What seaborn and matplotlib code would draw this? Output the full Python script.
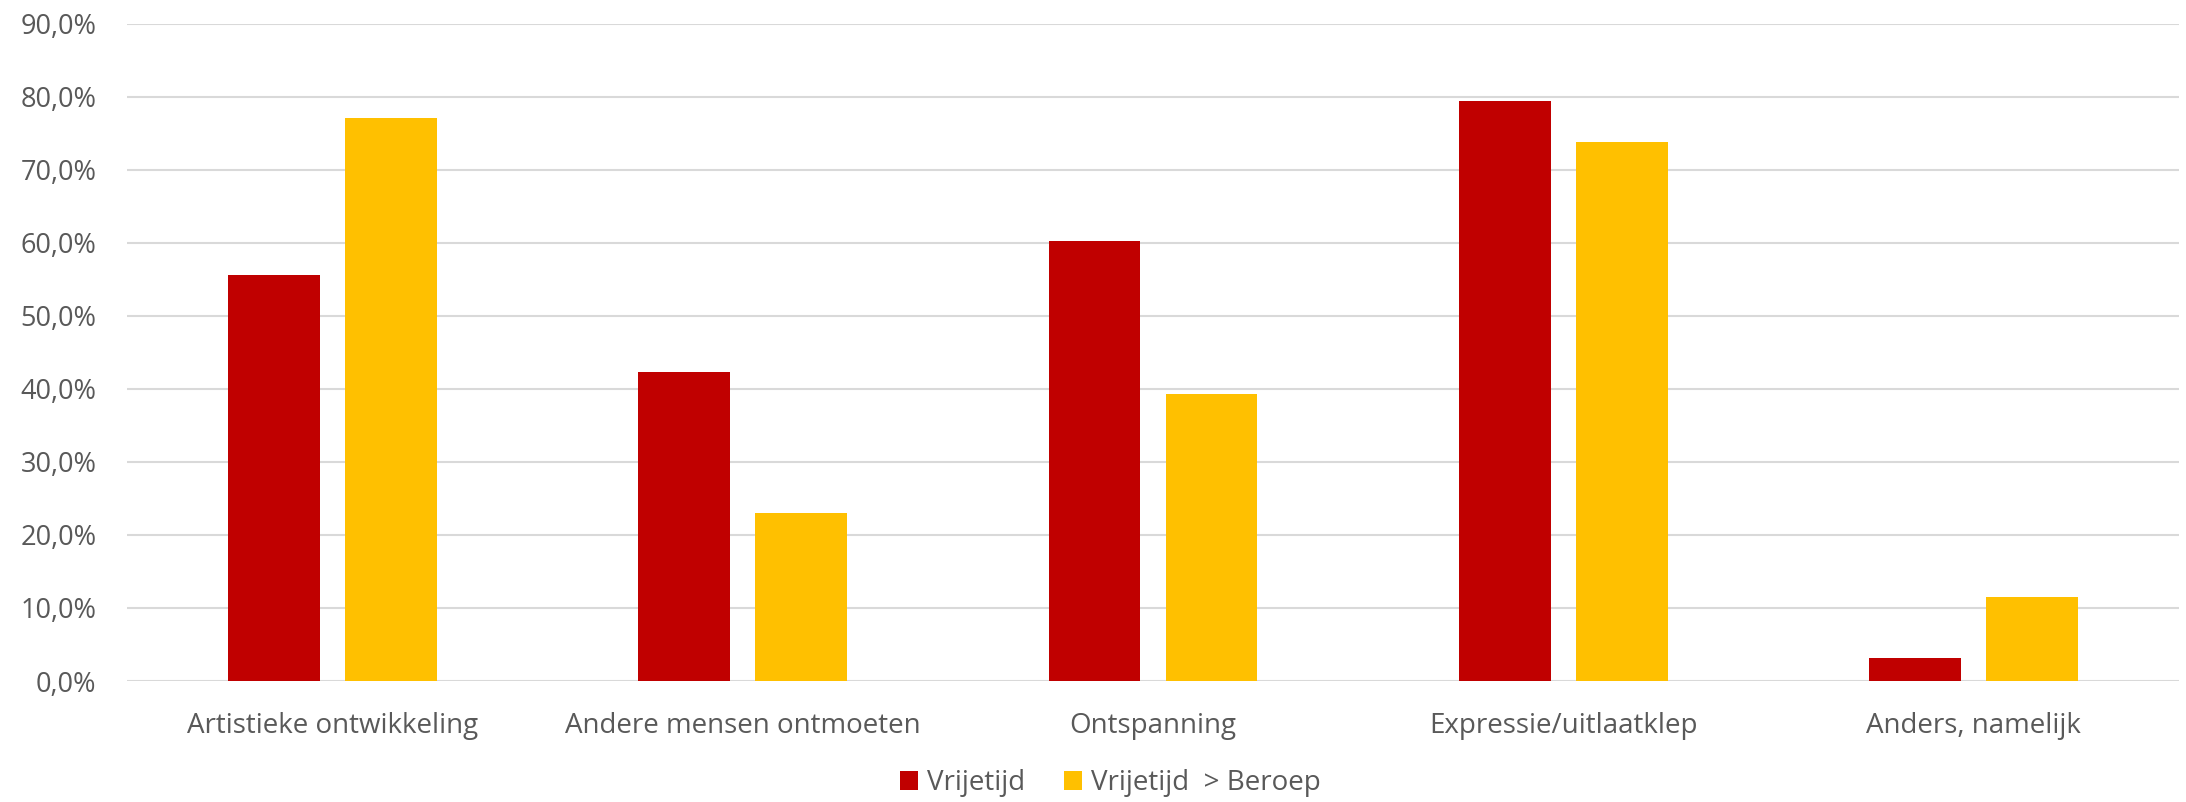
import matplotlib
matplotlib.use("Agg")
import matplotlib.pyplot as plt
import seaborn as sns
import pandas as pd
from matplotlib.ticker import FuncFormatter
from matplotlib.patches import Patch

categories = ["Artistieke ontwikkeling", "Andere mensen ontmoeten", "Ontspanning",
              "Expressie/uitlaatklep", "Anders, namelijk"]
series_names = ["Vrijetijd", "Vrijetijd  > Beroep"]
vrijetijd = [55.6, 42.3, 60.3, 79.4, 3.2]
vrijetijd_beroep = [77.1, 23.0, 39.3, 73.8, 11.5]
yticks = [0, 10, 20, 30, 40, 50, 60, 70, 80, 90]
colors = ["#C00000", "#FFC000"]

df = pd.DataFrame({
    "cat": categories * 2,
    "series": [series_names[0]] * len(categories) + [series_names[1]] * len(categories),
    "value": vrijetijd + vrijetijd_beroep,
})

sns.set_theme(style="white")
plt.rcParams["font.family"] = ["Open Sans", "DejaVu Sans"]
text_color = "#595959"

fig = plt.figure(figsize=(21.86, 8.02), dpi=100)
ax = fig.add_axes([127 / 2186, 1 - 681 / 802, (2179 - 127) / 2186, (681 - 23.7) / 802])

sns.barplot(data=df, x="cat", y="value", hue="series", palette=colors,
            width=0.57, gap=0.214, order=categories, hue_order=series_names,
            saturation=1, ax=ax, legend=False, linewidth=0)

ax.set_xlim(-0.5, len(categories) - 0.5)
ax.set_ylim(0, 90)
ax.set_yticks(yticks)
ax.yaxis.set_major_formatter(FuncFormatter(lambda v, p: f"{v:.1f}%".replace(".", ",")))
ax.grid(axis="y", color="#d9d9d9", linewidth=1.5)
ax.set_axisbelow(True)
for s in ax.spines.values():
    s.set_visible(False)
ax.tick_params(axis="both", length=0, colors=text_color)
ax.tick_params(axis="y", pad=22, labelsize=19.5)
ax.tick_params(axis="x", pad=22, labelsize=20)
ax.set_xlabel("")
ax.set_ylabel("")

handles = [Patch(facecolor=c, edgecolor="none") for c in colors]
fig.legend(handles, series_names, loc="center", bbox_to_anchor=(1110 / 2186, 1 - 783 / 802),
           ncol=2, frameon=False, fontsize=20, labelcolor=text_color,
           handlelength=0.65, handleheight=0.65, handletextpad=0.32, columnspacing=1.4)

fig.savefig("out.png", dpi=100)
